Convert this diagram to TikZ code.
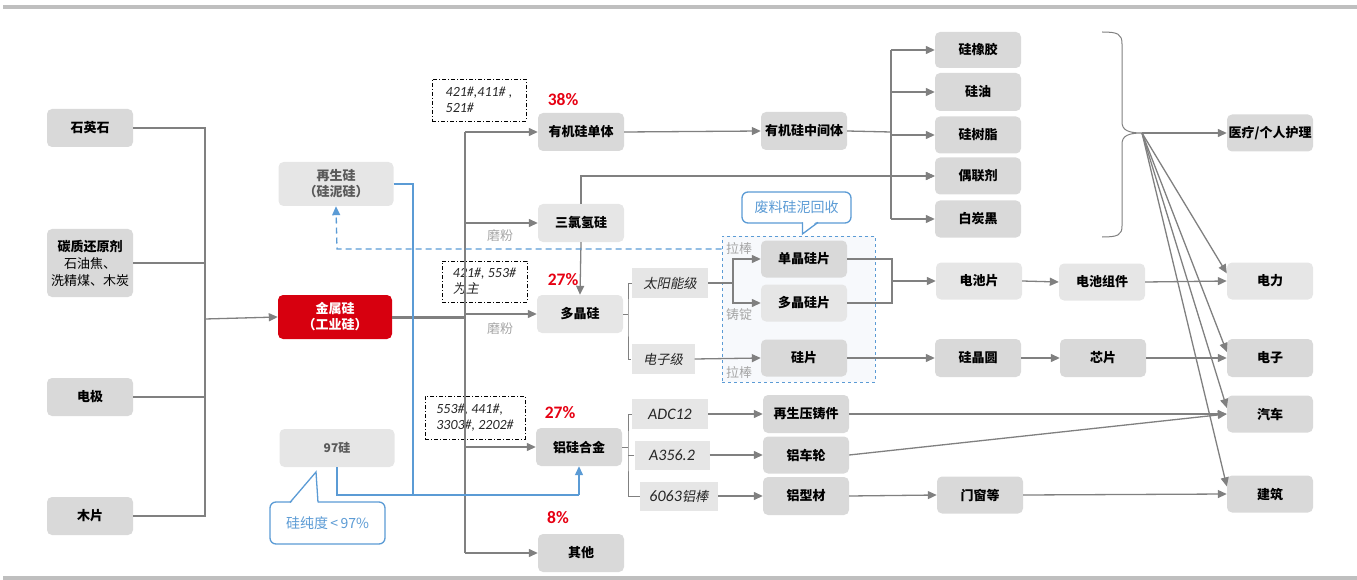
\documentclass[tikz,border=0pt]{standalone}
\usepackage{fontspec}
\setmainfont{Carlito}
\newfontfamily\cjk{Noto Sans CJK SC}
\newfontfamily\cjksl{Noto Sans CJK SC}[FakeSlant=0.2]
\usetikzlibrary{arrows.meta,calc}
\definecolor{lc}{HTML}{808080}
\definecolor{blc}{HTML}{5B9BD5}
\definecolor{rd}{HTML}{E60012}
\definecolor{msired}{HTML}{D7000F}
\definecolor{txt}{HTML}{262626}
\definecolor{lbl}{HTML}{A6A6A6}
\definecolor{boxd}{HTML}{D9D9D9}
\definecolor{boxl}{HTML}{E6E6E6}
\definecolor{rule}{HTML}{BFBFBF}
\definecolor{dfill}{HTML}{F7F9FC}
\begin{document}
\begin{tikzpicture}[x=1pt,y=-1pt,
  bx/.style={rounded corners=5pt, fill=boxd, minimum width=86pt, minimum height=38pt, inner sep=0pt, align=center, font=\cjk\bfseries\fontsize{13}{16}\selectfont},
  bxl/.style={bx, fill=boxl},
  tg/.style={fill=boxl, inner sep=0pt, minimum height=30pt, text=txt, font=\fontsize{16}{18}\selectfont\itshape},
  cd/.style={draw=black, line width=0.8pt, dash pattern=on 4pt off 2pt on 1pt off 2pt, inner sep=0pt, align=left, font=\fontsize{14}{16}\selectfont\itshape, text=txt},
  pc/.style={text=rd, font=\bfseries\fontsize{17.5}{18}\selectfont},
  gl/.style={text=lbl, font=\cjk\fontsize{13}{15}\selectfont},
  ln/.style={draw=lc, line width=1.3pt},
  ar/.style={ln, -{Triangle[length=9pt,width=8pt]}},
  bln/.style={draw=blc, line width=1.3pt},
  bar/.style={bln, -{Triangle[length=9pt,width=8pt]}},
  callo/.style={draw=blc, line width=1.3pt, fill=white, rounded corners=6pt, inner sep=0pt, text=blc, font=\cjk\fontsize{14}{16}\selectfont}
  ]
\useasboundingbox (0,0) rectangle (1357,580);
\fill[rule] (3,5) rectangle (1357,9);
\fill[rule] (3,576) rectangle (1357,580);

% dashed recycling area
\node[draw=blc, dashed, line width=1pt, fill=dfill, minimum width=153pt, minimum height=146pt, inner sep=0pt] (dbox) at (798.5,309) {};

% raw materials
\node[bx] (quartz) at (90,128) {石英石};
\node[bx, minimum height=68pt, font=\cjk\fontsize{13}{17}\selectfont] (carbon) at (90,263) {{\bfseries 碳质还原剂}\\石油焦、\\洗精煤、木炭};
\node[bx] (elec) at (90,397) {电极};
\node[bx] (wood) at (90,516) {木片};

\node[bx, fill=msired, text=white, minimum width=114pt, minimum height=44pt] (msi) at (335,317) {金属硅\\（工业硅）};
\node[bxl, text=black!65, minimum width=115pt, minimum height=44pt] (regen) at (336,184) {再生硅\\（硅泥硅）};
\node[bxl, text=black!65, minimum width=115pt, font=\cjk\bfseries\fontsize{12}{14}\selectfont] (si97) at (337,448) {97硅};

% first level products
\node[bx] (organic) at (581,132) {有机硅单体};
\node[bxl] (tcs) at (581,223) {三氯氢硅};
\node[bxl] (poly) at (580,314) {多晶硅};
\node[bx] (alloy) at (579,447) {铝硅合金};
\node[bx] (other) at (581,553) {其他};
\node[bx] (inter) at (804,131) {有机硅中间体};

% organic silicon products
\node[bx, minimum height=36pt] (rubber) at (978,50) {硅橡胶};
\node[bx] (oil) at (978,92) {硅油};
\node[bx, minimum height=37pt] (resin) at (978,135) {硅树脂};
\node[bx, minimum height=37pt] (coupling) at (978,176) {偶联剂};
\node[bx, minimum height=37pt] (wcb) at (978,219) {白炭黑};

% end markets
\node[bx, minimum height=37pt] (med) at (1270,133) {医疗/个人护理};
\node[bxl, minimum height=37pt] (power) at (1270,281) {电力};
\node[bx] (elect) at (1270,358) {电子};
\node[bx, minimum height=37pt] (car) at (1270,414) {汽车};
\node[bx, minimum height=37pt] (build) at (1270,494) {建筑};

% solar / electronic chain
\node[tg, minimum width=76pt] (solar) at (670,283) {\cjksl\fontsize{13.3}{15}\selectfont 太阳能级};
\node[tg, minimum width=63pt] (elecg) at (663,359) {\cjksl\fontsize{13.3}{15}\selectfont 电子级};
\node[bx, minimum height=37pt] (mono) at (804,259) {单晶硅片};
\node[bxl, minimum height=37pt] (multi) at (804,303) {多晶硅片};
\node[bx, minimum height=37pt] (wafer) at (804,358) {硅片};
\node[bxl, minimum height=37pt] (cell) at (979,281) {电池片};
\node[bxl, minimum height=37pt] (module) at (1102,282) {电池组件};
\node[bx] (siwafer) at (978,358) {硅晶圆};
\node[bx] (chip) at (1103,358) {芯片};

% aluminium chain
\node[tg, minimum width=76pt] (adc) at (670,414) {ADC12};
\node[tg, minimum width=75pt, minimum height=29pt] (a356) at (672,455) {A356.2};
\node[tg, minimum width=78pt, minimum height=29pt] (rod) at (679,496) {6063{\cjksl\fontsize{13.3}{15}\selectfont 铝棒}};
\node[bx] (diecast) at (806,414) {再生压铸件};
\node[bx, minimum height=37pt] (wheel) at (806,455) {铝车轮};
\node[bx] (profile) at (806,496) {铝型材};
\node[bx, minimum height=37pt] (window) at (980,495) {门窗等};

% code boxes
\node[cd, minimum width=94pt, minimum height=42pt] (cb1) at (479,100) {421\#,411\# ,\\521\#};
\node[cd, minimum width=85pt, minimum height=41pt] (cb2) at (484.5,281.5) {421\#, 553\#\\{\cjksl\fontsize{13}{15}\selectfont 为主}};
\node[cd, minimum width=100pt, minimum height=43pt] (cb3) at (475,417.5) {553\#, 441\#,\\3303\#, 2202\#};

% percentages
\node[pc] (p1) at (563,100) {38\%};
\node[pc] (p2) at (563,280) {27\%};
\node[pc] (p3) at (560,413) {27\%};
\node[pc] (p4) at (558,518) {8\%};

% process labels
\node[gl] (mf1) at (500,236) {磨粉};
\node[gl] (mf2) at (500,329) {磨粉};
\node[gl] (lb1) at (739,249) {拉棒};
\node[gl] (zd) at (739,315) {铸锭};
\node[gl] (lb2) at (739,373) {拉棒};

% raw material bus
\coordinate (lb) at (205,319);
\draw[ln] (quartz.east) -| (lb);
\draw[ln] (carbon.east) -| (lb);
\draw[ln] (elec.east) -| (lb);
\draw[ln] (wood.east) -| (lb);
\draw[ar] (lb) -- (msi.west);

% main bus
\coordinate (bus) at (465,317);
\draw[draw=lc, line width=3pt] (msi.east) -- (bus);
\draw[ln] (bus |- organic.west) -- (bus |- other.west);
\draw[ar] (bus |- organic.west) -- (organic.west);
\draw[ar] (bus |- tcs.west) -- (tcs.west);
\draw[ar] (bus |- poly.west) -- (poly.west);
\draw[ar] (bus |- alloy.west) -- (alloy.west);
\draw[ar] (bus |- other.west) -- (other.west);

% organic silicon
\draw[ar] (organic.east) -- (inter.west);
\coordinate (obus) at (891,132);
\draw[ln] (inter.east) -- (obus);
\draw[ln] (obus |- rubber.west) -- (obus |- wcb.west);
\draw[ar] (obus |- rubber.west) -- (rubber.west);
\draw[ar] (obus |- oil.west) -- (oil.west);
\draw[ar] (obus |- resin.west) -- (resin.west);
\draw[ar] (obus |- coupling.west) -- (coupling.west);
\draw[ar] (obus |- wcb.west) -- (wcb.west);
\draw[ar] (tcs.north) |- (coupling.west);
\draw[ar] (tcs.south) -- (poly.north);

% brace and market links
\coordinate (bt) at (1142,133);
\draw[draw=lc, line width=1pt] (1102,32) .. controls (1118,32) and (1122,34) .. (1122,44) -- (1122,122) .. controls (1122,130) and (1128,133) .. (bt) .. controls (1128,133) and (1122,136) .. (1122,144) -- (1122,226) .. controls (1122,235) and (1118,237) .. (1102,237);
\draw[ar] (bt) -- (med.west);
\draw[ar] (bt) -- (power.170);
\draw[ar] (bt) -- (elect.172);
\draw[ar] (bt) -- (car.172);
\draw[ar] (bt) -- (build.170);

% polysilicon split
\coordinate (pb) at (628,314);
\draw[draw=lc, line width=1pt] (poly.east) -- (pb);
\draw[draw=lc, line width=1pt] (solar.west) -| (pb) |- (elecg.west);
\coordinate (sp) at (733,283);
\draw[ln] (solar.east) -- (sp);
\draw[ar] (sp) |- (mono.west);
\draw[ar] (sp) |- (multi.west);
\draw[ar] (elecg.east) -- (wafer.west);
\coordinate (jn) at (892,281);
\draw[ln] (mono.east) -| (jn);
\draw[ln] (multi.east) -| (jn);
\draw[ar] (jn) -- (cell.west);
\draw[ar] (cell.east) -- (module.west);
\draw[ar] (module.east) -- (power.west);
\draw[ar] (wafer.east) -- (siwafer.west);
\draw[ar] (siwafer.east) -- (chip.west);
\draw[ar] (chip.east) -- (elect.west);

% aluminium split
\coordinate (ab) at (628,447);
\draw[draw=lc, line width=1pt] (alloy.east) -- (ab);
\draw[draw=lc, line width=1pt] (adc.west) -| (ab) |- (rod.west);
\draw[draw=lc, line width=1pt] (a356.west) -- (a356.west -| ab);
\draw[ar] (adc.east) -- (diecast.west);
\draw[ar] (a356.east) -- (wheel.west);
\draw[ar] (rod.east) -- (profile.west);
\draw[ar] (diecast.east) -- (car.west);
\draw[ar] (wheel.east) -- (car.west);
\draw[ar] (profile.east) -- (window.west);
\draw[ar] (window.east) -- (build.west);

% recycled silicon (blue)
\coordinate (bj) at (413,495);
\coordinate (bk) at (579,495);
\draw[bln] (regen.east) -| (bj);
\draw[bln] (si97.south) |- (bk);
\draw[bar] (bk) -- (alloy.south);
\coordinate (dl) at (337,249);
\draw[bar, dash pattern=on 6pt off 4pt] (dbox.west |- dl) -- (dl) -- (regen.south);

% callouts
\node[callo, minimum width=109pt, minimum height=31pt] (c1) at (796.5,207.5) {废料硅泥回收};
\fill[white] (803,221) -- (803,233) -- (817,221) -- cycle;
\draw[draw=blc, line width=1.3pt] (802.4,222.4) -- (802.4,234) -- (818,222.4);
\node[callo, minimum width=115pt, minimum height=42pt] (c2) at (327.5,523) {硅纯度\,<\,97\%};
\fill[white] (291,503) -- (316,473) -- (318,503) -- cycle;
\draw[draw=blc, line width=1.3pt] (290,502.4) -- (316,472) -- (318,502.4);
\end{tikzpicture}
\end{document}
